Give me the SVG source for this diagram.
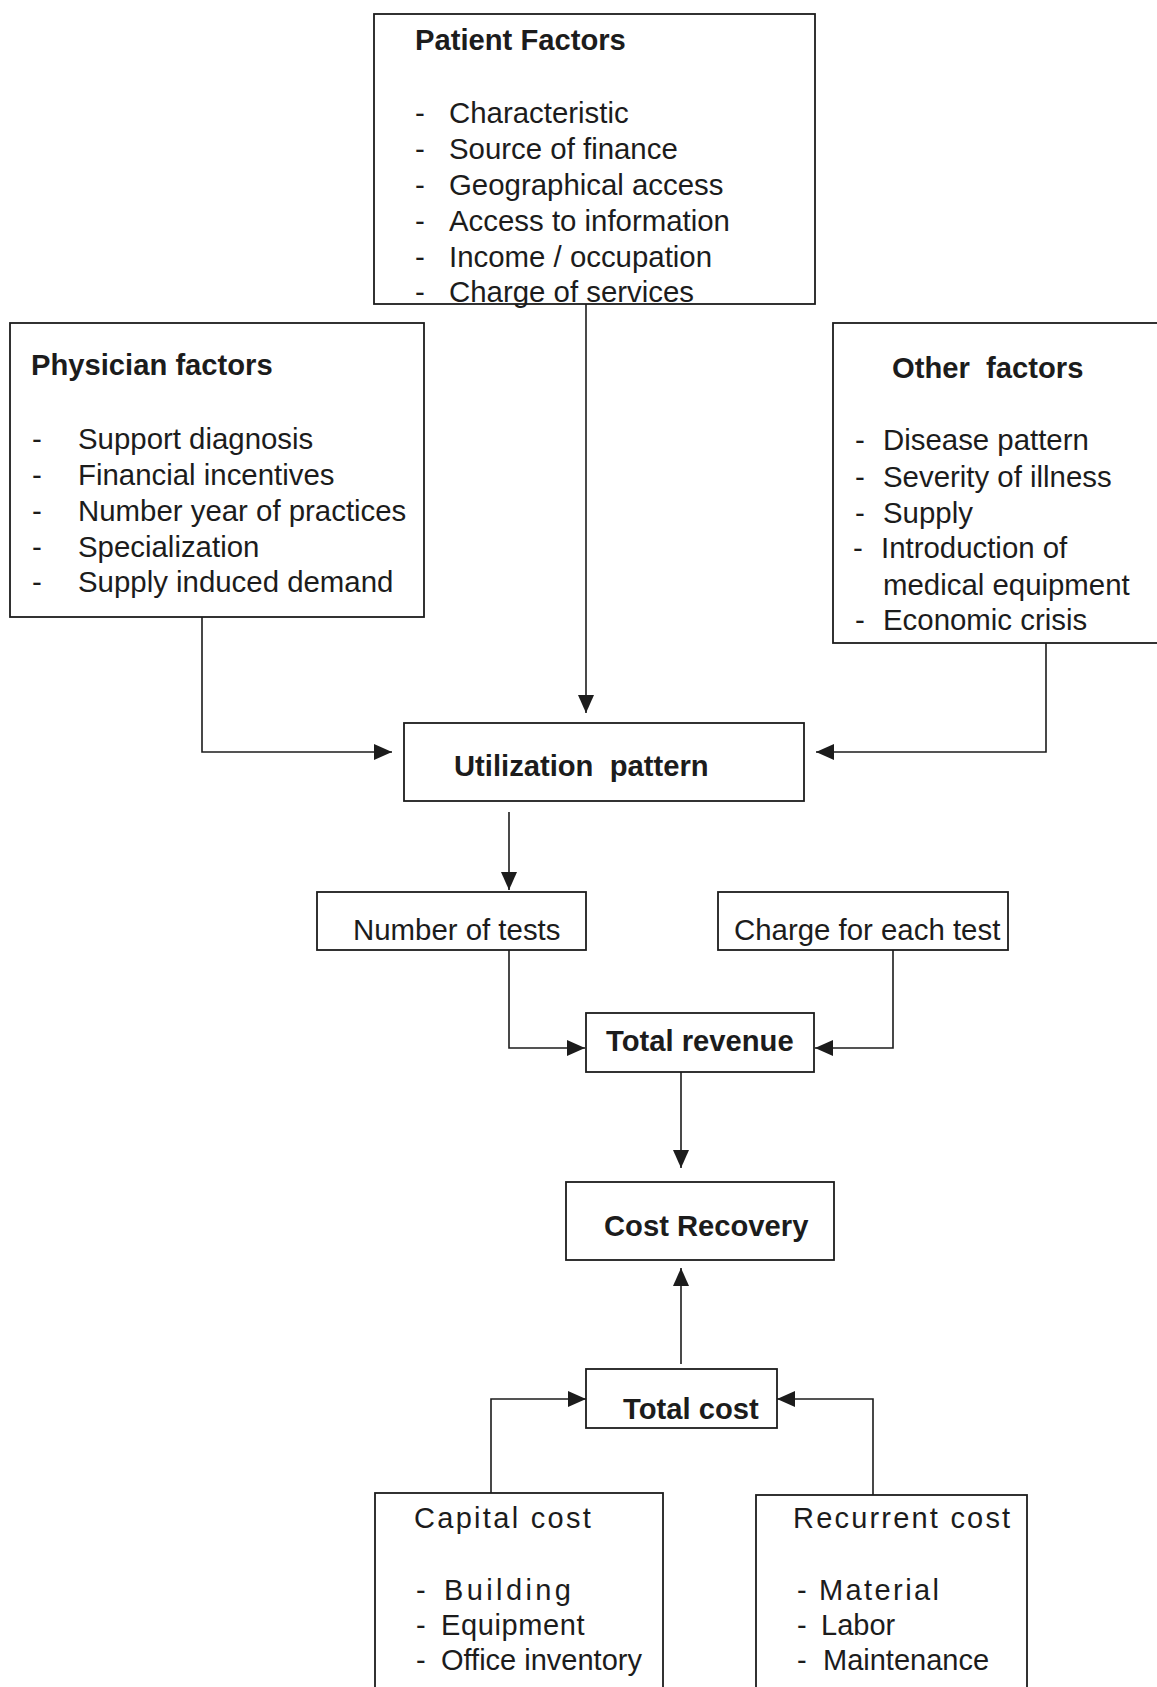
<svg xmlns="http://www.w3.org/2000/svg" width="1157" height="1687" viewBox="0 0 1157 1687">
<style>
.box{fill:none;stroke:#1c1c1c;stroke-width:1.8}
.t{font-family:"Liberation Sans",Arial,sans-serif;font-size:29.4px;fill:#1c1c1c}
.b{font-weight:bold;font-size:29.2px}
.s{font-size:29px}
.c{fill:none;stroke:#1c1c1c;stroke-width:1.6}
</style>
<defs>
<marker id="ah" markerUnits="userSpaceOnUse" markerWidth="19" markerHeight="16" refX="18" refY="8" orient="auto">
<path d="M0,0 L18,8 L0,16 z" fill="#1c1c1c"/>
</marker>
</defs>
<rect width="1157" height="1687" fill="#ffffff"/>
<g id="connectors">
<line class="c" x1="586" y1="304" x2="586" y2="713" marker-end="url(#ah)"/>
<polyline class="c" points="202,617 202,752 392,752" marker-end="url(#ah)"/>
<polyline class="c" points="1046,643 1046,752 816,752" marker-end="url(#ah)"/>
<line class="c" x1="509" y1="812" x2="509" y2="890" marker-end="url(#ah)"/>
<polyline class="c" points="509,950 509,1048 585,1048" marker-end="url(#ah)"/>
<polyline class="c" points="893,950 893,1048 815,1048" marker-end="url(#ah)"/>
<line class="c" x1="681" y1="1072" x2="681" y2="1168" marker-end="url(#ah)"/>
<line class="c" x1="681" y1="1364" x2="681" y2="1268" marker-end="url(#ah)"/>
<polyline class="c" points="491,1493 491,1399 586,1399" marker-end="url(#ah)"/>
<polyline class="c" points="873,1495 873,1399 777,1399" marker-end="url(#ah)"/>
</g>
<g id="patient">
<rect class="box" x="374" y="14" width="441" height="290"/>
<text class="t b" x="415" y="50">Patient Factors</text>
<text class="t" x="415" y="123">-</text><text class="t" x="449" y="123">Characteristic</text>
<text class="t" x="415" y="159">-</text><text class="t" x="449" y="159">Source of finance</text>
<text class="t" x="415" y="195">-</text><text class="t" x="449" y="195">Geographical access</text>
<text class="t" x="415" y="231">-</text><text class="t" x="449" y="231">Access to information</text>
<text class="t" x="415" y="267">-</text><text class="t" x="449" y="267">Income / occupation</text>
<text class="t" x="415" y="302">-</text><text class="t" x="449" y="302">Charge of services</text>
</g>
<g id="physician">
<rect class="box" x="10" y="323" width="414" height="294"/>
<text class="t b" x="31" y="375">Physician factors</text>
<text class="t" x="32" y="449">-</text><text class="t" x="78" y="449">Support diagnosis</text>
<text class="t" x="32" y="485">-</text><text class="t" x="78" y="485">Financial incentives</text>
<text class="t" x="32" y="521">-</text><text class="t" x="78" y="521">Number year of practices</text>
<text class="t" x="32" y="557">-</text><text class="t" x="78" y="557">Specialization</text>
<text class="t" x="32" y="592">-</text><text class="t" x="78" y="592">Supply induced demand</text>
</g>
<g id="other">
<rect class="box" x="833" y="323" width="340" height="320"/>
<text class="t b" x="892" y="378" xml:space="preserve">Other  factors</text>
<text class="t" x="855" y="450">-</text><text class="t" x="883" y="450">Disease pattern</text>
<text class="t" x="855" y="487">-</text><text class="t" x="883" y="487">Severity of illness</text>
<text class="t" x="855" y="523">-</text><text class="t" x="883" y="523">Supply</text>
<text class="t" x="853" y="558">-</text><text class="t" x="881" y="558">Introduction of</text>
<text class="t" x="883" y="595">medical equipment</text>
<text class="t" x="855" y="630">-</text><text class="t" x="883" y="630">Economic crisis</text>
</g>
<g id="utilization">
<rect class="box" x="404" y="723" width="400" height="78"/>
<text class="t b" x="454" y="776" xml:space="preserve">Utilization  pattern</text>
</g>
<g id="numtests">
<rect class="box" x="317" y="892" width="269" height="58"/>
<text class="t" x="353" y="940">Number of tests</text>
</g>
<g id="charge">
<rect class="box" x="718" y="892" width="290" height="58"/>
<text class="t" x="734" y="940">Charge for each test</text>
</g>
<g id="revenue">
<rect class="box" x="586" y="1013" width="228" height="59"/>
<text class="t b" x="606" y="1051">Total revenue</text>
</g>
<g id="recovery">
<rect class="box" x="566" y="1182" width="268" height="78"/>
<text class="t b" x="604" y="1236">Cost Recovery</text>
</g>
<g id="totalcost">
<rect class="box" x="586" y="1369" width="191" height="59"/>
<text class="t b" x="623" y="1419">Total cost</text>
</g>
<g id="capital">
<rect class="box" x="375" y="1493" width="288" height="230"/>
<text class="t s" x="414" y="1528" letter-spacing="2.3">Capital cost</text>
<text class="t s" x="416" y="1600">-</text><text class="t s" x="444" y="1600" letter-spacing="3.4">Building</text>
<text class="t s" x="416" y="1635">-</text><text class="t s" x="441" y="1635" letter-spacing="0.6">Equipment</text>
<text class="t s" x="416" y="1670">-</text><text class="t s" x="441" y="1670">Office inventory</text>
</g>
<g id="recurrent">
<rect class="box" x="756" y="1495" width="271" height="230"/>
<text class="t s" x="793" y="1528" letter-spacing="2.2">Recurrent cost</text>
<text class="t s" x="797" y="1600">-</text><text class="t s" x="819" y="1600" letter-spacing="2.4">Material</text>
<text class="t s" x="797" y="1635">-</text><text class="t s" x="821" y="1635">Labor</text>
<text class="t s" x="797" y="1670">-</text><text class="t s" x="823" y="1670">Maintenance</text>
</g>
</svg>
